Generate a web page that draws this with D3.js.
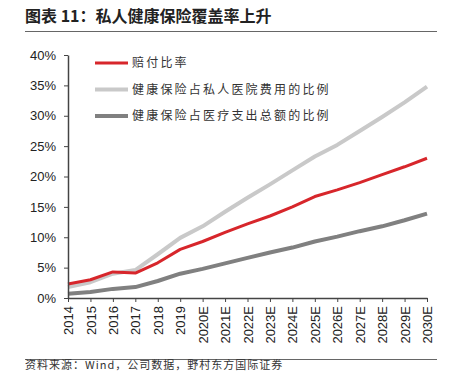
<!DOCTYPE html>
<html>
<head>
<meta charset="utf-8">
<script src="https://cdn.jsdelivr.net/npm/d3@7"></script>
<style>
  body { margin: 0; background: #fff; }
  svg { display: block; }
</style>
</head>
<body>
<svg id="chart" width="463" height="387"></svg>
<script>
const years = ["2014", "2015", "2016", "2017", "2018", "2019", "2020E", "2021E", "2022E", "2023E",
    "2024E", "2025E", "2026E", "2027E", "2028E", "2029E", "2030E"];
const claimRatio = [2.3, 3.0, 4.3, 4.1, 5.8, 8.0, 9.3, 10.8, 12.2, 13.5, 15.0, 16.7, 17.8, 19.0, 20.3, 21.6, 23.0];
const shareOfPrivateHospital = [1.8, 2.6, 4.0, 4.6, 7.2, 9.9, 11.8, 14.2, 16.5, 18.7, 21.0, 23.3, 25.2, 27.5, 29.8, 32.2, 34.8];
const shareOfTotalSpend = [0.7, 1.0, 1.5, 1.8, 2.8, 4.0, 4.8, 5.7, 6.6, 7.5, 8.3, 9.3, 10.1, 11.0, 11.8, 12.8, 13.9];
const yTicks = [0, 5, 10, 15, 20, 25, 30, 35, 40];

const series = [
    {name: "赔付比率", values: claimRatio, color: "#d7262b", width: 3},
    {name: "健康保险占私人医院费用的比例", values: shareOfPrivateHospital, color: "#c9c9c9", width: 4},
    {name: "健康保险占医疗支出总额的比例", values: shareOfTotalSpend, color: "#808080", width: 4}
];

const svg = d3.select("#chart");
const font = "'Liberation Sans', Arial, sans-serif";
const cjk = "'Noto Sans CJK SC', sans-serif";

// title + rules
svg.append("text")
    .attr("x", 25).attr("y", 22)
    .attr("font-family", cjk).attr("font-weight", "bold").attr("font-size", 16)
    .attr("fill", "#222")
    .text("图表 11：私人健康保险覆盖率上升");
svg.append("line").attr("x1", 25).attr("x2", 437).attr("y1", 31.5).attr("y2", 31.5)
    .attr("stroke", "#666").attr("stroke-width", 1);
svg.append("line").attr("x1", 25).attr("x2", 437).attr("y1", 359.5).attr("y2", 359.5)
    .attr("stroke", "#666").attr("stroke-width", 1);
svg.append("text")
    .attr("x", 25).attr("y", 369)
    .attr("font-family", cjk).attr("font-size", 11).attr("letter-spacing", 1)
    .attr("fill", "#333")
    .text("资料来源：Wind，公司数据，野村东方国际证券");

const plotLeft = 68, plotRight = 427, plotTop = 55, plotBottom = 298;
const x = d3.scalePoint().domain(years).range([plotLeft, plotRight]);
const y = d3.scaleLinear().domain([0, 40]).range([plotBottom, plotTop]);

const plot = svg.append("g");

// lines
const line = d3.line()
    .x((d, i) => x(years[i]))
    .y(d => y(d));

plot.selectAll(".series")
    .data(series)
    .join("path")
    .attr("class", "series")
    .attr("fill", "none")
    .attr("stroke", d => d.color)
    .attr("stroke-width", d => d.width)
    .attr("stroke-linejoin", "round")
    .attr("d", d => line(d.values));

// raise red line on top
plot.selectAll(".series").filter(d => d.name === "赔付比率").raise();

// axes
const yAxis = svg.append("g")
    .attr("transform", `translate(${plotLeft},0)`)
    .call(d3.axisLeft(y).tickValues(yTicks).tickFormat(d => d + "%").tickSize(4).tickSizeOuter(0));
yAxis.select(".domain").attr("stroke", "#444").attr("stroke-width", 1.5);
yAxis.selectAll(".tick line").attr("stroke", "#444");
yAxis.selectAll(".tick text")
    .attr("font-family", font).attr("font-size", 13).attr("fill", "#222").attr("x", -12);

const xAxis = svg.append("g")
    .attr("transform", `translate(0,${plotBottom})`)
    .call(d3.axisBottom(x).tickSize(4).tickSizeOuter(0));
xAxis.select(".domain").attr("stroke", "#444").attr("stroke-width", 1.5);
xAxis.selectAll(".tick line").attr("stroke", "#444");
xAxis.selectAll(".tick text")
    .attr("font-family", font).attr("font-size", 13).attr("fill", "#222")
    .attr("transform", "rotate(-90)")
    .attr("text-anchor", "end")
    .attr("x", -8).attr("y", 0).attr("dy", "0.35em");

// legend
const legend = svg.append("g").selectAll("g")
    .data(series)
    .join("g")
    .attr("transform", (d, i) => `translate(95,${63 + i * 26.5})`);
legend.append("line")
    .attr("x1", 0).attr("x2", 33)
    .attr("stroke", d => d.color)
    .attr("stroke-width", d => d.width);
legend.append("text")
    .attr("x", 37).attr("dy", "0.35em")
    .attr("font-family", cjk).attr("font-size", 12).attr("letter-spacing", 2.2)
    .attr("fill", "#333")
    .text(d => d.name);
</script>
</body>
</html>
